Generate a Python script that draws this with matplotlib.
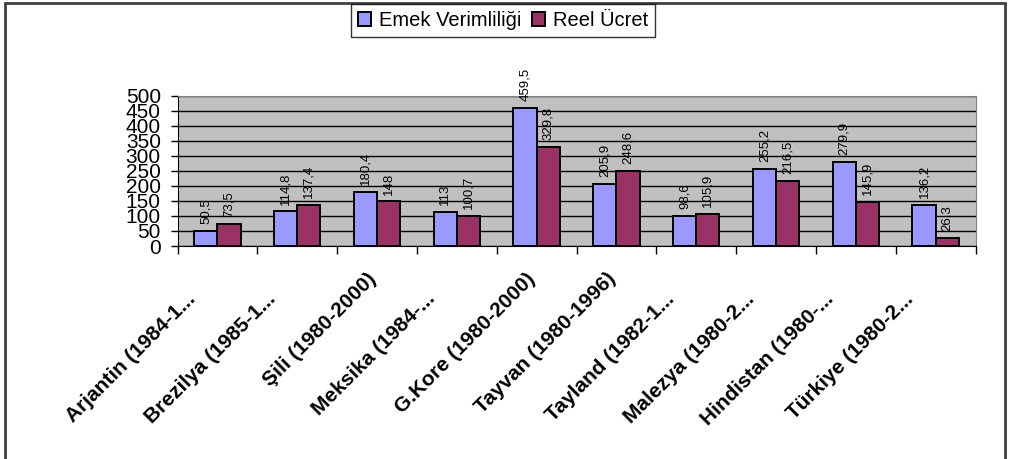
import matplotlib
matplotlib.use("Agg")
import matplotlib.pyplot as plt
import matplotlib.transforms as mtransforms
import numpy as np
from matplotlib.patches import Rectangle

plt.rcParams['font.family'] = ['Liberation Sans', 'DejaVu Sans']

categories = ["Arjantin (1984-1...", "Brezilya (1985-1...", "Şili (1980-2000)",
              "Meksika (1984-...", "G.Kore (1980-2000)", "Tayvan (1980-1996)",
              "Tayland (1982-1...", "Malezya (1980-2...", "Hindistan (1980-...",
              "Türkiye (1980-2..."]
emek = [50.5, 114.8, 180.4, 113, 459.5, 205.9, 98.6, 255.2, 279.9, 136.2]
reel = [73.5, 137.4, 148, 100.7, 329.8, 248.6, 105.9, 216.5, 145.9, 26.3]
series_names = ["Emek Verimliliği", "Reel Ücret"]
yticks = [0, 50, 100, 150, 200, 250, 300, 350, 400, 450, 500]

W, H = 1009, 459
fig = plt.figure(figsize=(W / 100, H / 100), dpi=100)
ax = fig.add_axes([177.5 / W, 1 - 246 / H, (975.5 - 177.5) / W, (246 - 95.5) / H])
ax.set_facecolor('#C0C0C0')

x = np.arange(len(categories))
bw = 0.29
b1 = ax.bar(x - bw / 2, emek, bw, color='#9999FF', edgecolor='black', linewidth=1.4, zorder=3)
b2 = ax.bar(x + bw / 2, reel, bw, color='#993366', edgecolor='black', linewidth=1.4, zorder=3)

def fmt(v):
    return (f"{v:g}").replace('.', ',')

for bars, vals in ((b1, emek), (b2, reel)):
    for r, v in zip(bars, vals):
        ax.annotate(fmt(v), (r.get_x() + r.get_width() / 2, r.get_height()),
                    xytext=(0, 5), textcoords='offset points', rotation=90,
                    ha='center', va='bottom', fontsize=9.5, zorder=4)

ax.set_xlim(-0.5, len(categories) - 0.5)
ax.set_ylim(0, 500)
ax.set_yticks(yticks)
ax.set_yticklabels([str(t) for t in yticks], fontsize=15)
ax.yaxis.grid(True, color='black', linewidth=1.0, zorder=1)
ax.set_axisbelow(True)
ax.tick_params(axis='y', length=5, width=1, pad=7)

ax.set_xticks(np.arange(len(categories) + 1) - 0.5, minor=False)
ax.set_xticklabels([])
ax.tick_params(axis='x', which='major', length=6, width=1, direction='out')
ax.set_xticks(x, minor=True)
labels = ax.set_xticklabels(categories, minor=True, rotation=45, ha='right', va='center',
                            rotation_mode='anchor', fontsize=15, fontweight='bold')
ax.tick_params(axis='x', which='minor', length=0, pad=21.5)
for lab in labels:
    if lab.get_text().endswith('...'):
        dx, dy = -25, -20
    else:
        dx, dy = -4, 0
    lab.set_transform(lab.get_transform() +
                      mtransforms.ScaledTranslation(dx / 100, dy / 100, fig.dpi_scale_trans))

for s in ['left', 'bottom']:
    ax.spines[s].set_color('black')
ax.spines['top'].set_color('#808080')
ax.spines['right'].set_color('#808080')

leg = fig.legend([b1, b2], series_names, loc='upper center', bbox_to_anchor=(503 / W, 1 - 4 / H),
                 ncol=2, fontsize=14.5, frameon=True, fancybox=False, edgecolor='black',
                 handlelength=0.65, handleheight=0.65, handletextpad=0.4, columnspacing=0.5,
                 borderpad=0.35, borderaxespad=0)
leg.get_frame().set_linewidth(1.0)

fig.patches.append(Rectangle((4.5 / W, -0.01), (1004.5 - 4.5) / W, 1 - 2.5 / H + 0.01,
                             transform=fig.transFigure, fill=False, edgecolor='#404040',
                             linewidth=2))

fig.savefig('out.png', dpi=100)
